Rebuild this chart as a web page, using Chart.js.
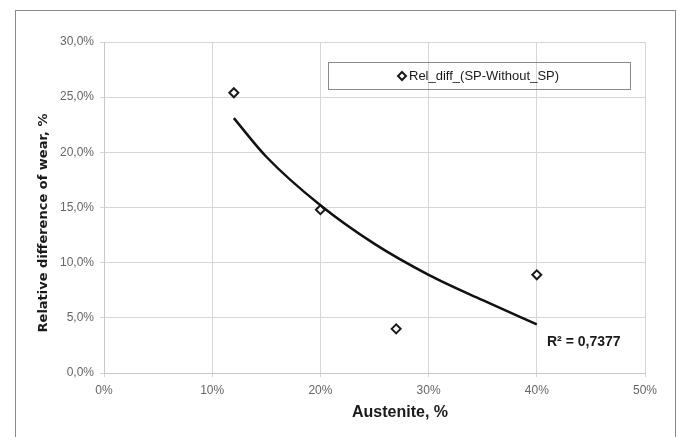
<!DOCTYPE html>
<html>
<head>
<meta charset="utf-8">
<script src="https://cdn.jsdelivr.net/npm/chart.js"></script>
<style>
  body { margin: 0; background: #fff; }
  #wrap { position: relative; width: 683px; height: 437px; }
</style>
</head>
<body>
<div id="wrap"><canvas id="myChart" width="683" height="437"></canvas></div>
<script>
// measured points (Austenite %, relative difference %)
var austenite = [12, 20, 27, 40];
var relDiff = [25.4, 14.8, 4.0, 8.9];
// logarithmic trend line
var trendX = [12, 15, 20, 25, 30, 35, 40];
var trendY = [23.1, 19.6, 15.2, 11.7, 8.9, 6.6, 4.4];
var xTicks = [0, 10, 20, 30, 40, 50];
var yTicks = [0, 5, 10, 15, 20, 25, 30];
var seriesName = 'Rel_diff_(SP-Without_SP)';
var rSquared = 'R² = 0,7377';

var narrow = "'Liberation Sans Narrow', 'Arial Narrow', sans-serif";

var pointData = austenite.map(function (x, i) { return { x: x, y: relDiff[i] }; });
var trendData = trendX.map(function (x, i) { return { x: x, y: trendY[i] }; });

// titles, legend box, R² label and outer frame
var extras = {
  id: 'extras',
  beforeDraw: function (chart) {
    var ctx = chart.ctx;
    ctx.save();
    ctx.strokeStyle = '#8a8a8a';
    ctx.lineWidth = 1;
    ctx.strokeRect(15.5, 10.5, 660, 440);
    ctx.restore();
  },
  afterDraw: function (chart) {
    var ctx = chart.ctx;
    ctx.save();
    // legend
    ctx.strokeStyle = '#8a8a8a';
    ctx.lineWidth = 1;
    ctx.strokeRect(328.5, 62.5, 302, 27);
    ctx.fillStyle = '#fff';
    ctx.strokeStyle = '#1a1a1a';
    ctx.lineWidth = 2;
    ctx.beginPath();
    ctx.moveTo(402, 72); ctx.lineTo(406, 76); ctx.lineTo(402, 80); ctx.lineTo(398, 76); ctx.closePath();
    ctx.fill(); ctx.stroke();
    ctx.fillStyle = '#1a1a1a';
    ctx.font = '13px ' + narrow;
    ctx.textAlign = 'left';
    ctx.textBaseline = 'middle';
    ctx.fillText(seriesName, 409, 76);
    // R²
    ctx.font = 'bold 14px ' + narrow;
    ctx.fillText(rSquared, 547, 342);
    // x title
    ctx.textAlign = 'center';
    ctx.font = 'bold 16px ' + narrow;
    ctx.fillText('Austenite, %', 400, 413);
    // y title
    ctx.translate(44, 223);
    ctx.rotate(-Math.PI / 2);
    ctx.font = 'bold 13px "DejaVu Sans", sans-serif';
    ctx.fillText('Relative difference of wear, %', 0, 0);
    ctx.restore();
  }
};

var ctx = document.getElementById('myChart').getContext('2d');
var myChart = new Chart(ctx, {
  type: 'scatter',
  data: {
    datasets: [{
      label: 'trend',
      data: trendData,
      showLine: true,
      borderColor: '#111',
      borderWidth: 2.5,
      pointRadius: 0,
      cubicInterpolationMode: 'monotone'
    }, {
      label: seriesName,
      data: pointData,
      pointStyle: 'rectRot',
      pointRadius: 4.5,
      pointBorderWidth: 2,
      borderColor: '#1a1a1a',
      backgroundColor: '#fff'
    }]
  },
  options: {
    responsive: false,
    animation: false,
    layout: { padding: { top: 42, right: 38, left: 0, bottom: 0 } },
    plugins: { legend: { display: false }, tooltip: { enabled: false } },
    scales: {
      x: {
        type: 'linear', min: 0, max: 50,
        afterBuildTicks: function (s) { s.ticks = xTicks.map(function (v) { return { value: v }; }); },
        afterFit: function (s) { s.height = 64; },
        grid: { color: '#d6d6d6', tickColor: '#d6d6d6', tickLength: 4 },
        border: { color: '#c8c8c8' },
        ticks: {
          padding: 6, color: '#666', maxRotation: 0,
          font: { family: narrow, size: 12 },
          callback: function (v) { return v + '%'; }
        }
      },
      y: {
        type: 'linear', min: 0, max: 30,
        afterBuildTicks: function (s) { s.ticks = yTicks.map(function (v) { return { value: v }; }); },
        afterFit: function (s) { s.width = 104; },
        grid: { color: '#d6d6d6', tickColor: '#d6d6d6', tickLength: 4 },
        border: { color: '#c8c8c8' },
        ticks: {
          padding: 6, color: '#666',
          font: { family: narrow, size: 12 },
          callback: function (v) { return v.toFixed(1).replace('.', ',') + '%'; }
        }
      }
    }
  },
  plugins: [extras]
});
</script>
</body>
</html>
